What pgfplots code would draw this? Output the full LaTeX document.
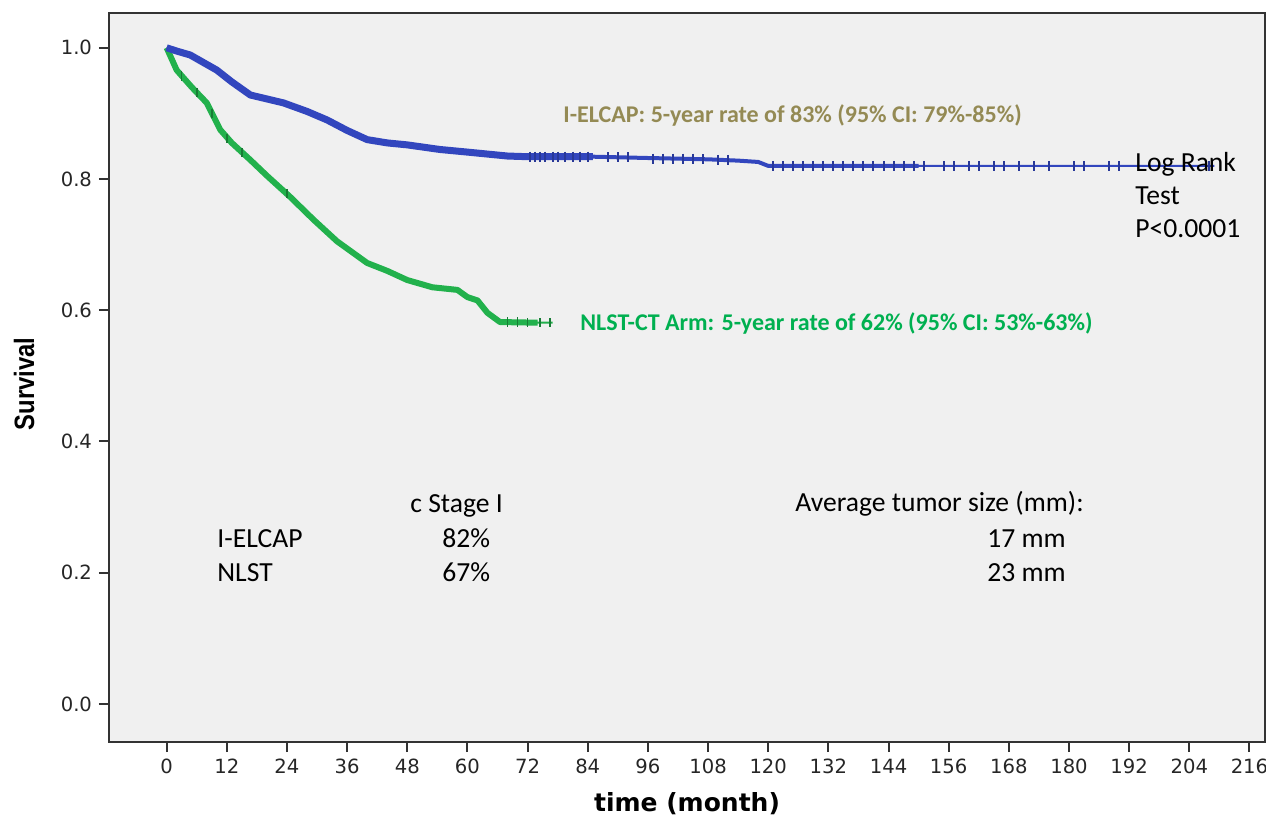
\documentclass[border=0pt]{standalone}
\usepackage{fontspec}
\setmainfont{Carlito}
\newfontfamily\dejavu{DejaVu Sans}
\newfontfamily\libsans{Liberation Sans}
\usepackage{graphicx}
\usepackage{pgfplots}
\usepackage{pgfplotstable}
\pgfplotsset{compat=1.18}

\definecolor{bgray}{HTML}{F0F0F0}
\definecolor{kmblue}{HTML}{3246BE}
\definecolor{kmgreen}{HTML}{22B14C}
\definecolor{olivetxt}{HTML}{948A54}
\definecolor{greentxt}{HTML}{00B050}

% I-ELCAP survival curve
\pgfplotstableread{
t s
0 1.000
2 0.995
4.7 0.989
7 0.979
10 0.966
13 0.948
16.7 0.928
20 0.922
23.3 0.916
28 0.903
32 0.890
36 0.874
40 0.860
44 0.855
48 0.852
54.5 0.845
60 0.841
64 0.838
68 0.835
72 0.834
85 0.834
96 0.832
108 0.830
114 0.828
118 0.826
120 0.820
150 0.820
209 0.820
}\elcap

% I-ELCAP censored observations
\pgfplotstableread{
t s
72.5 0.834
73.5 0.834
74.5 0.834
75.5 0.834
77 0.834
78 0.834
79.5 0.834
81 0.834
82.5 0.834
84 0.834
88 0.833
90 0.833
92 0.833
97 0.831
99 0.831
101 0.831
103 0.831
105 0.831
107 0.830
110 0.829
112 0.829
121 0.820
123 0.820
125 0.820
127 0.820
129 0.820
131 0.820
133 0.820
135 0.820
137 0.820
139 0.820
141 0.820
143 0.820
145 0.820
147 0.820
149 0.820
151 0.820
155 0.820
157 0.820
160 0.820
162 0.820
165 0.820
167 0.820
170 0.820
173 0.820
176 0.820
181 0.820
183 0.820
188 0.820
190 0.820
208 0.820
}\elcapcens

% NLST-CT arm survival curve
\pgfplotstableread{
t s
0 1.000
2 0.966
5 0.940
8 0.916
10.7 0.875
13 0.855
16.7 0.829
20 0.805
24.6 0.773
29.3 0.738
34 0.705
40 0.672
44 0.660
48 0.646
53 0.635
58 0.631
60 0.620
62 0.615
64 0.596
66.5 0.582
74 0.581
77 0.581
}\nlst

% NLST censored observations
\pgfplotstableread{
t s
3 0.957
6 0.932
9 0.900
12 0.862
15 0.840
24 0.778
68 0.582
70 0.582
72 0.581
74.5 0.581
76.5 0.581
}\nlstcens

\begin{document}
\begin{tikzpicture}
\useasboundingbox (-54.5bp,-37.5bp) rectangle (578.5bp,371bp);
\begin{axis}[
  at={(0bp,0bp)}, anchor=south west,
  scale only axis, width=578bp, height=364.5bp,
  xmin=-11.5, xmax=219.1, ymin=-0.058, ymax=1.053,
  axis background/.style={fill=bgray},
  axis line style={draw=black!80, line width=1bp},
  xtick={0,12,...,216},
  ytick={0,0.2,0.4,0.6,0.8,1.0},
  tick align=outside, xtick pos=lower, ytick pos=left,
  major tick length=5bp,
  tick style={black!80, line width=1bp},
  ticklabel style={font=\dejavu\fontsize{9.8bp}{11bp}\selectfont, text=black!85},
  /pgf/number format/assume math mode=true,
  yticklabel style={/pgf/number format/.cd, fixed, fixed zerofill, precision=1},
  xticklabel style={/pgf/number format/.cd, fixed, precision=0},
  xlabel={time (month)},
  xlabel style={at={(axis description cs:0.5,-0.085)}, anchor=center,
    font=\dejavu\bfseries\fontsize{12.5bp}{14bp}\selectfont},
  ylabel={\scalebox{0.85}[1]{Survival}},
  ylabel style={at={(axis description cs:-0.0735,0.491)}, anchor=center, rotate=0,
    font=\libsans\bfseries\fontsize{14bp}{16bp}\selectfont},
  clip=false,
]
% NLST-CT arm
\addplot[kmgreen, line width=3bp, line join=round, restrict x to domain=0:74] table[x=t,y=s] {\nlst};
\addplot[kmgreen, line width=1bp] table[x=t,y=s] {\nlst};
\addplot[only marks, mark=|, mark size=2.3bp, mark options={kmgreen!70!black, line width=0.8bp}] table[x=t,y=s] {\nlstcens};
% I-ELCAP
\addplot[kmblue, line width=3.5bp, line join=round, restrict x to domain=0:85] table[x=t,y=s] {\elcap};
\addplot[kmblue, line width=2bp, restrict x to domain=85:150] table[x=t,y=s] {\elcap};
\addplot[kmblue, line width=1bp] table[x=t,y=s] {\elcap};
\addplot[only marks, mark=|, mark size=2.5bp, mark options={kmblue!80!black, line width=1bp}] table[x=t,y=s] {\elcapcens};
\end{axis}

% annotations (positions in bp relative to the lower-left corner of the plot area)
\begin{scope}[every node/.style={inner sep=0pt, anchor=base west}]
\node[font=\bfseries\fontsize{12bp}{14bp}\selectfont, text=olivetxt] at (227bp,309.5bp) {I-ELCAP: 5-year rate of 83\% (95\% CI: 79\%-85\%)};
\node[font=\bfseries\fontsize{12bp}{14bp}\selectfont, text=greentxt] at (235.5bp,205.5bp) {NLST-CT Arm: 5-year rate of 62\% (95\% CI: 53\%-63\%)};
\node[font=\fontsize{13.8bp}{16bp}\selectfont] at (513bp,285bp) {Log Rank};
\node[font=\fontsize{13.8bp}{16bp}\selectfont] at (513bp,268.5bp) {Test};
\node[font=\fontsize{13.8bp}{16bp}\selectfont] at (513bp,252bp) {P<0.0001};
\node[font=\fontsize{13.8bp}{16bp}\selectfont] at (150.5bp,114.5bp) {c Stage I};
\node[font=\fontsize{13.8bp}{16bp}\selectfont] at (54bp,97bp) {I-ELCAP};
\node[font=\fontsize{13.8bp}{16bp}\selectfont] at (166.5bp,97bp) {82\%};
\node[font=\fontsize{13.8bp}{16bp}\selectfont] at (54bp,80bp) {NLST};
\node[font=\fontsize{13.8bp}{16bp}\selectfont] at (166.5bp,80bp) {67\%};
\node[font=\fontsize{13.8bp}{16bp}\selectfont] at (343bp,115bp) {Average tumor size (mm):};
\node[font=\fontsize{13.8bp}{16bp}\selectfont] at (439bp,97bp) {17 mm};
\node[font=\fontsize{13.8bp}{16bp}\selectfont] at (439bp,80bp) {23 mm};
\end{scope}
\end{tikzpicture}
\end{document}
